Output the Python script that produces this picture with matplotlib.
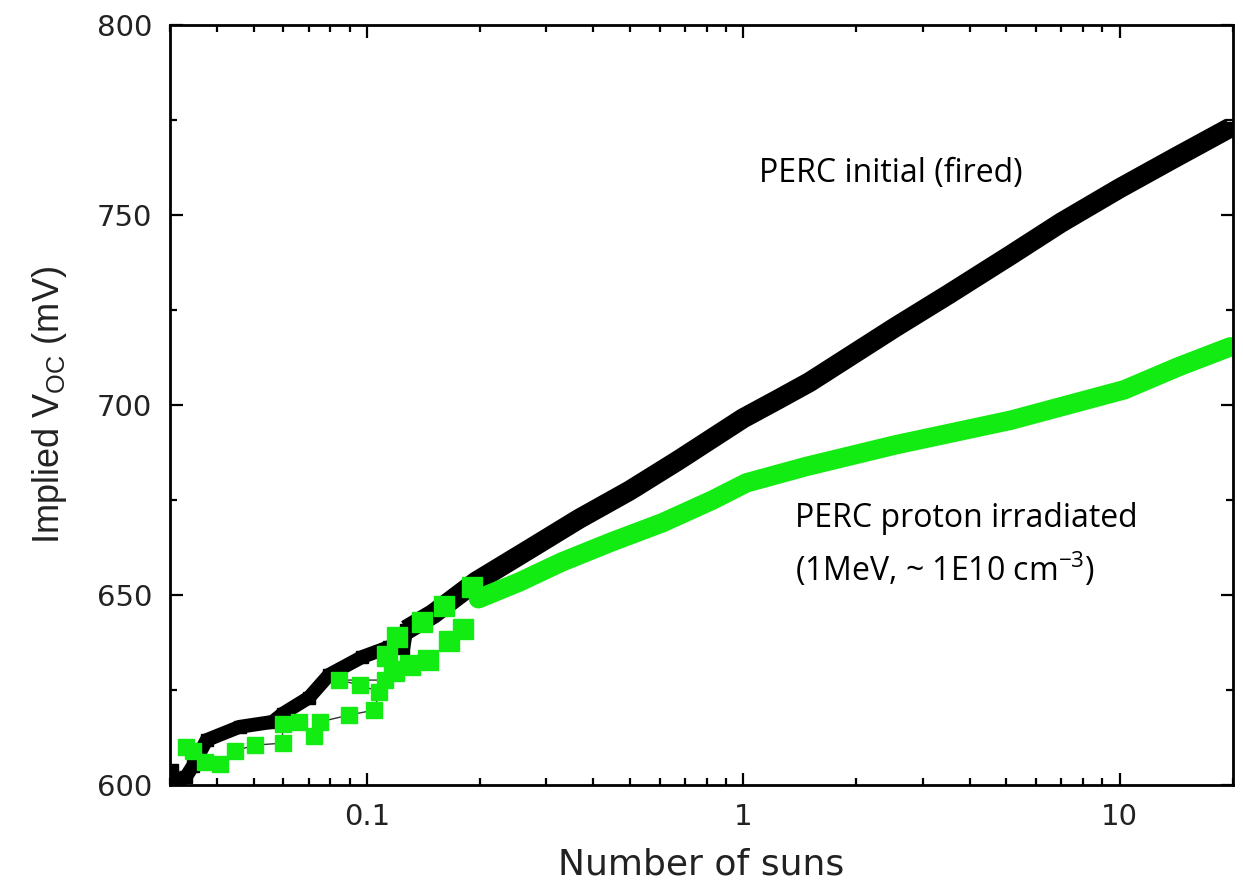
import matplotlib
matplotlib.use('Agg')
import matplotlib.pyplot as plt
from matplotlib.ticker import FixedLocator, FixedFormatter, LogLocator, MultipleLocator, NullFormatter
import numpy as np

# PERC initial (fired): suns, implied Voc (mV)
black_suns = [0.0303, 0.031, 0.033, 0.0345, 0.0375, 0.0459, 0.0562, 0.0597, 0.0702, 0.0794,
              0.0973, 0.1146, 0.125, 0.1273, 0.15, 0.195, 0.27, 0.366, 0.5, 0.674,
              1.0, 1.24, 1.5, 2.54, 3.5, 5.15, 7.0, 10.0, 14.0, 19.7]
black_voc = [604, 601, 602, 605, 611.8, 615.3, 616.6, 618.7, 623, 629,
             633.7, 636.3, 636, 640.8, 645, 653.5, 662, 670, 677.5, 685.5,
             696.5, 701.5, 706, 720.5, 729, 739.5, 748, 757, 765, 773]

# PERC proton irradiated
green_suns = [0.0330, 0.0345, 0.0371, 0.0407, 0.0446, 0.0506, 0.0597, 0.0597, 0.0661, 0.0724,
              0.0750, 0.0897, 0.1046, 0.108, 0.0958, 0.0846, 0.112,
              0.113, 0.118, 0.12, 0.13, 0.14, 0.145, 0.16, 0.165, 0.18, 0.19,
              0.198, 0.254, 0.33, 0.448, 0.61, 0.83,
              1.02, 1.24, 1.47, 2.54, 5.15, 10.3, 14.3, 19.7]
green_voc = [610, 609, 606, 605.5, 609, 610.5, 611, 616, 616.6, 613,
             616.6, 618.4, 619.7, 624.5, 626.3, 627.6, 627.6,
             634, 630, 639, 631.5, 643, 633, 647, 638, 641, 652,
             649, 653.4, 658.7, 664, 669, 675,
             679.5, 681.8, 683.8, 689.5, 696, 704, 710, 715.3]

xtick_vals = [0.1, 1, 10]
xtick_labels = ['0.1', '1', '10']
ytick_vals = [600, 650, 700, 750, 800]

plt.rcParams['font.family'] = ['DejaVu Sans']

fig = plt.figure(figsize=(12.43, 8.91), dpi=100)
ax = fig.add_axes([0.1368, 0.119, 0.855, 0.853])

gx = np.array(green_suns)
gy = np.array(green_voc)
g_sparse = gx < 0.113
g_blob = (gx >= 0.113) & (gx < 0.198)
g_band = gx >= 0.198
bx = np.array(black_suns)
by = np.array(black_voc)
b_low = bx <= 0.1273
b_high = bx >= 0.1273

green = '#12ec12'
# black series underneath
ax.plot(bx[b_low], by[b_low], color='black', lw=10, solid_capstyle='butt', zorder=2)
ax.plot(bx[b_high], by[b_high], color='black', lw=14.5, solid_capstyle='butt', zorder=2)
ax.plot(bx, by, linestyle='none', marker='s', ms=9, color='black', zorder=2)

# thin connecting line under the sparse green squares
ax.plot(gx[:18], gy[:18], color='#333333', lw=1.0, zorder=3)
ax.plot(gx[g_band], gy[g_band], color=green, lw=14, solid_capstyle='round', zorder=4)
ax.plot(gx[g_sparse], gy[g_sparse], linestyle='none', marker='s', ms=11, color=green, zorder=4)
ax.plot(gx[g_blob], gy[g_blob], linestyle='none', marker='s', ms=15, color=green, zorder=4)

ax.set_xscale('log')
ax.set_xlim(0.03, 20)
ax.set_ylim(600, 800)

ax.xaxis.set_major_locator(FixedLocator(xtick_vals))
ax.xaxis.set_major_formatter(FixedFormatter(xtick_labels))
ax.xaxis.set_minor_locator(LogLocator(base=10, subs=np.arange(2, 10)))
ax.xaxis.set_minor_formatter(NullFormatter())
ax.yaxis.set_major_locator(FixedLocator(ytick_vals))
ax.yaxis.set_minor_locator(MultipleLocator(25))

for s in ax.spines.values():
    s.set_linewidth(2)
    s.set_zorder(6)
ax.tick_params(which='both', direction='in', top=True, right=True, width=1.6)
ax.tick_params(which='major', length=9, labelsize=21, labelcolor='#222222', pad=13)
ax.tick_params(which='minor', length=5)

ax.set_xlabel('Number of suns', fontsize=26, color='#222222', labelpad=12)
ax.set_ylabel('Implied V$_{\\mathregular{OC}}$ (mV)', fontsize=26, color='#222222',
              labelpad=20, family=['Liberation Sans'])

ax.text(1.10, 761, 'PERC initial (fired)', fontsize=23, family='Open Sans', va='center')
ax.text(1.37, 670, 'PERC proton irradiated', fontsize=23, family='Open Sans', va='center')
ax.text(1.37, 656.5, '(1MeV, ~ 1E10 cm$^{\\mathregular{-3}}$)', fontsize=23,
        family='Open Sans', va='center')

fig.savefig('out.png', dpi=100)
